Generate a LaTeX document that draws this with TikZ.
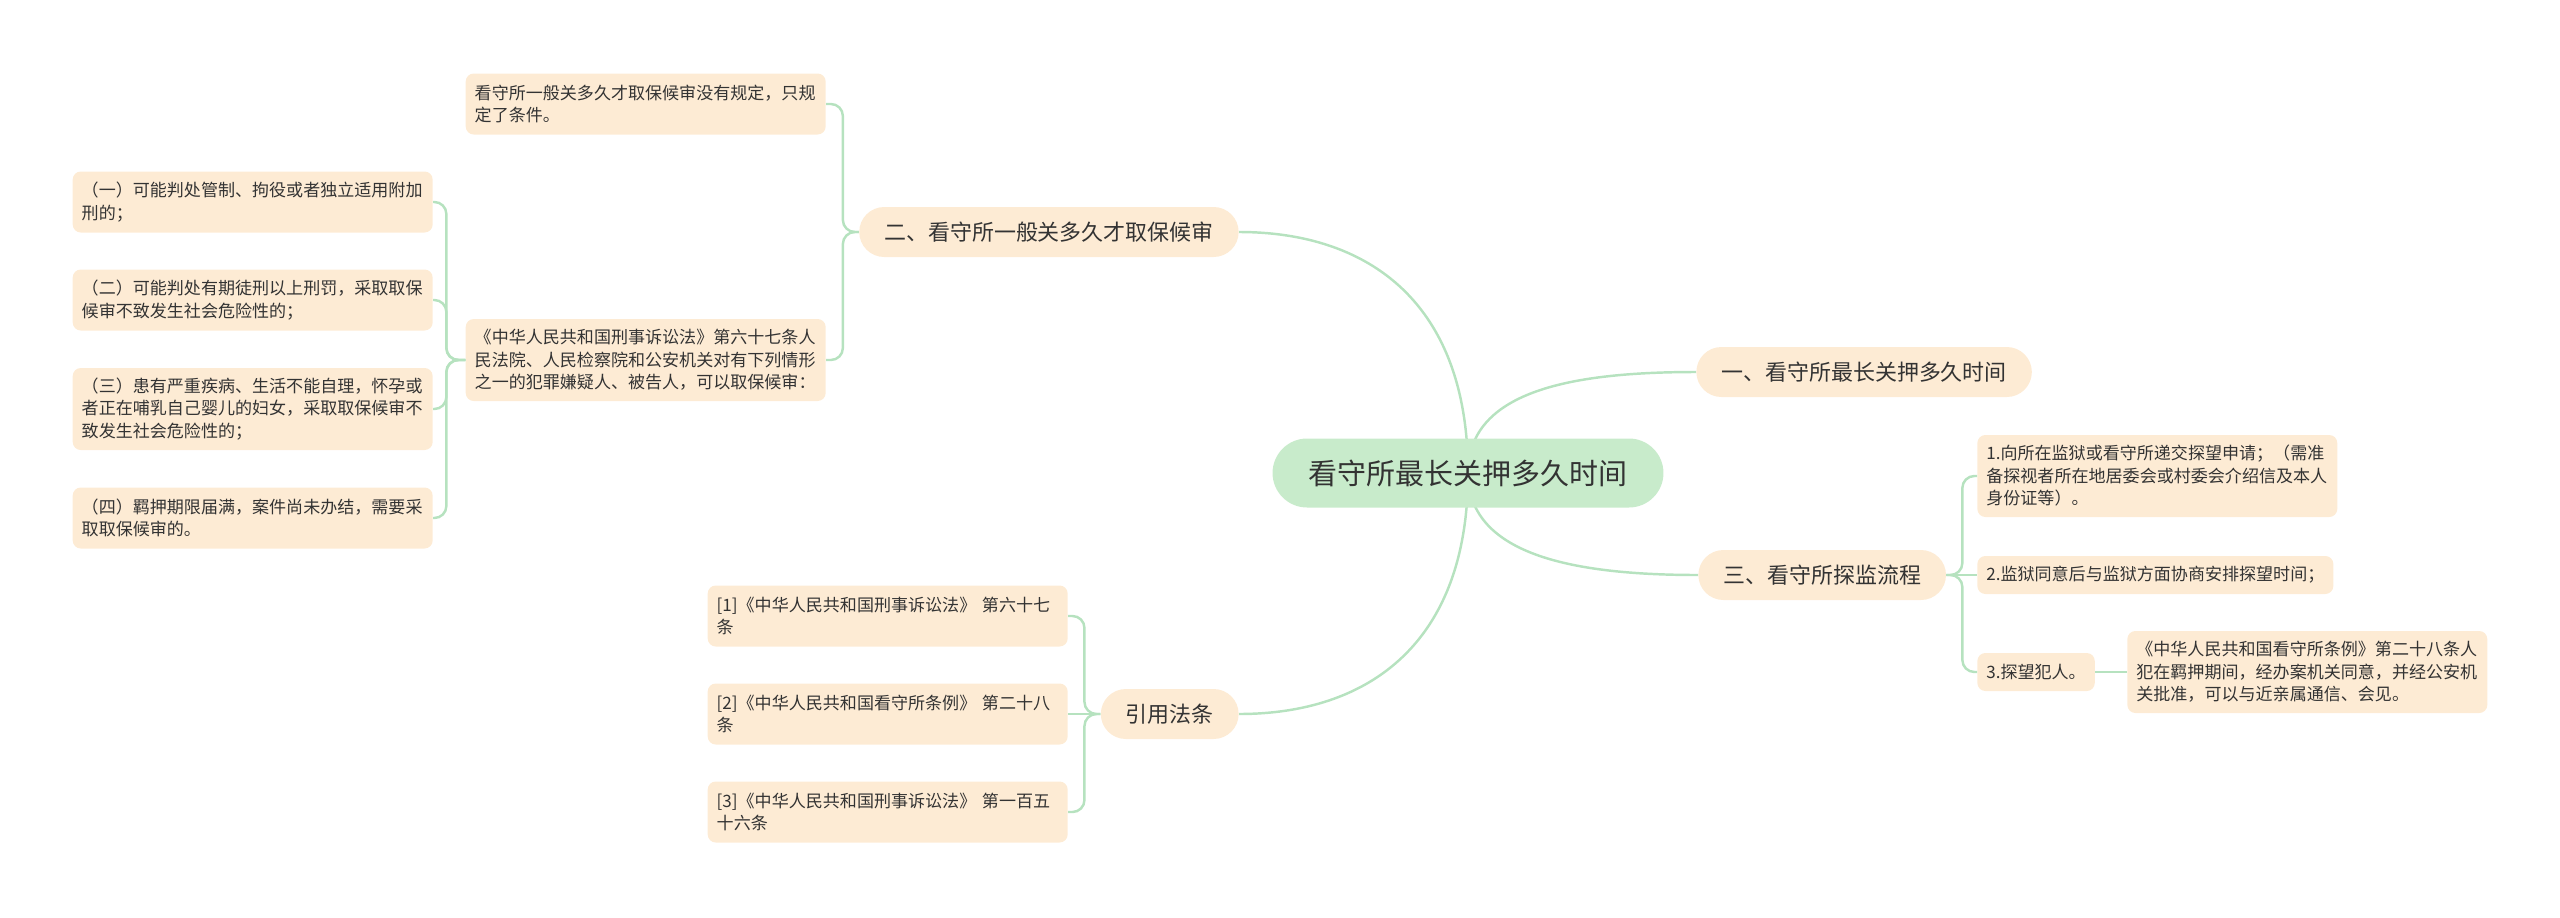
\documentclass[tikz,border=0pt]{standalone}
\usepackage{fontspec}
\setmainfont{Noto Sans CJK SC}
\usepackage{xcolor}
\usetikzlibrary{backgrounds}
\definecolor{rootgreen}{HTML}{C8EBCB}
\definecolor{leafpeach}{HTML}{FDEBD4}
\definecolor{linegreen}{HTML}{B6E2BF}
\definecolor{inkgray}{HTML}{333333}

\begin{document}
\begin{tikzpicture}[x=0.02cm,y=-0.02cm,
    rootbox/.style={fill=rootgreen,rounded corners=0.69cm,minimum width=7.82cm,minimum height=1.38cm,text=inkgray,font=\fontsize{16.5}{20}\selectfont},
    topicbox/.style={fill=leafpeach,rounded corners=0.5cm,minimum height=1cm,inner xsep=0.5cm,text=inkgray,font=\fontsize{12.5}{15}\selectfont},
    leafbox/.style={fill=leafpeach,rounded corners=0.16cm,align=left,inner xsep=0.18cm,inner ysep=0pt,text=inkgray,font=\fontsize{9.7}{12.8}\selectfont},
    oneline/.style={minimum height=0.76cm},
    twolines/.style={minimum height=1.22cm},
    threelines/.style={minimum height=1.64cm},
    link/.style={draw=linegreen,line width=1.4pt,rounded corners=0.24cm}]
  \useasboundingbox (0,0) rectangle (2560,917);

  % centre and main topics
  \node[rootbox] (root) at (1468,473) {看守所最长关押多久时间};
  \node[topicbox,anchor=west] (t1) at (1696,372) {一、看守所最长关押多久时间};
  \node[topicbox,anchor=east] (t2) at (1239,232) {二、看守所一般关多久才取保候审};
  \node[topicbox,anchor=west] (t3) at (1698,575) {三、看守所探监流程};
  \node[topicbox,anchor=east] (t4) at (1239,714) {引用法条};

  % topic 2
  \node[leafbox,twolines,text width=6.84cm,anchor=east] (t2a) at (826,104)
    {看守所一般关多久才取保候审没有规定，只规\\定了条件。};
  \node[leafbox,threelines,text width=6.84cm,anchor=east] (t2b) at (826,360)
    {《中华人民共和国刑事诉讼法》第六十七条人\\民法院、人民检察院和公安机关对有下列情形\\之一的犯罪嫌疑人、被告人，可以取保候审：};
  \node[leafbox,twolines,text width=6.84cm,anchor=east] (t2b1) at (433,202)
    {（一）可能判处管制、拘役或者独立适用附加\\刑的；};
  \node[leafbox,twolines,text width=6.84cm,anchor=east] (t2b2) at (433,300)
    {（二）可能判处有期徒刑以上刑罚，采取取保\\候审不致发生社会危险性的；};
  \node[leafbox,threelines,text width=6.84cm,anchor=east] (t2b3) at (433,409)
    {（三）患有严重疾病、生活不能自理，怀孕或\\者正在哺乳自己婴儿的妇女，采取取保候审不\\致发生社会危险性的；};
  \node[leafbox,twolines,text width=6.84cm,anchor=east] (t2b4) at (433,518)
    {（四）羁押期限届满，案件尚未办结，需要采\\取取保候审的。};

  % topic 3
  \node[leafbox,threelines,text width=6.84cm,anchor=west] (t3a) at (1977,476)
    {1.向所在监狱或看守所递交探望申请；（需准\\备探视者所在地居委会或村委会介绍信及本人\\身份证等）。};
  \node[leafbox,oneline,anchor=west] (t3b) at (1977,575)
    {2.监狱同意后与监狱方面协商安排探望时间；};
  \node[leafbox,oneline,anchor=west] (t3c) at (1977,672) {3.探望犯人。};
  \node[leafbox,threelines,text width=6.84cm,anchor=west] (t3c1) at (2127,672)
    {《中华人民共和国看守所条例》第二十八条人\\犯在羁押期间，经办案机关同意，并经公安机\\关批准，可以与近亲属通信、会见。};

  % references
  \node[leafbox,twolines,text width=6.84cm,anchor=east] (t4a) at (1068,616)
    {[1]《中华人民共和国刑事诉讼法》 第六十七\\条};
  \node[leafbox,twolines,text width=6.84cm,anchor=east] (t4b) at (1068,714)
    {[2]《中华人民共和国看守所条例》 第二十八\\条};
  \node[leafbox,twolines,text width=6.84cm,anchor=east] (t4c) at (1068,812)
    {[3]《中华人民共和国刑事诉讼法》 第一百五\\十六条};

  \begin{scope}[on background layer]
    \draw[link] (root.center) .. controls +(0,-170) and +(130,0) .. (t2.east);
    \draw[link] (root.center) .. controls +(0,-80) and +(-130,0) .. (t1.west);
    \draw[link] (root.center) .. controls +(0,80) and +(-130,0) .. (t3.west);
    \draw[link] (root.center) .. controls +(0,170) and +(130,0) .. (t4.east);
  \end{scope}

  \foreach \n in {t2a,t2b}
    \draw[link] (t2.west) -- ++(-16,0) |- (\n.east);
  \foreach \n in {t2b1,t2b2,t2b3,t2b4}
    \draw[link] (t2b.west) -- ++(-19,0) |- (\n.east);
  \foreach \n in {t3a,t3c}
    \draw[link] (t3.east) -- ++(16,0) |- (\n.west);
  \draw[link] (t3.east) -- (t3b.west);
  \draw[link] (t3c.east) -- (t3c1.west);
  \foreach \n in {t4a,t4c}
    \draw[link] (t4.west) -- ++(-16,0) |- (\n.east);
  \draw[link] (t4.west) -- (t4b.east);
\end{tikzpicture}
\end{document}
